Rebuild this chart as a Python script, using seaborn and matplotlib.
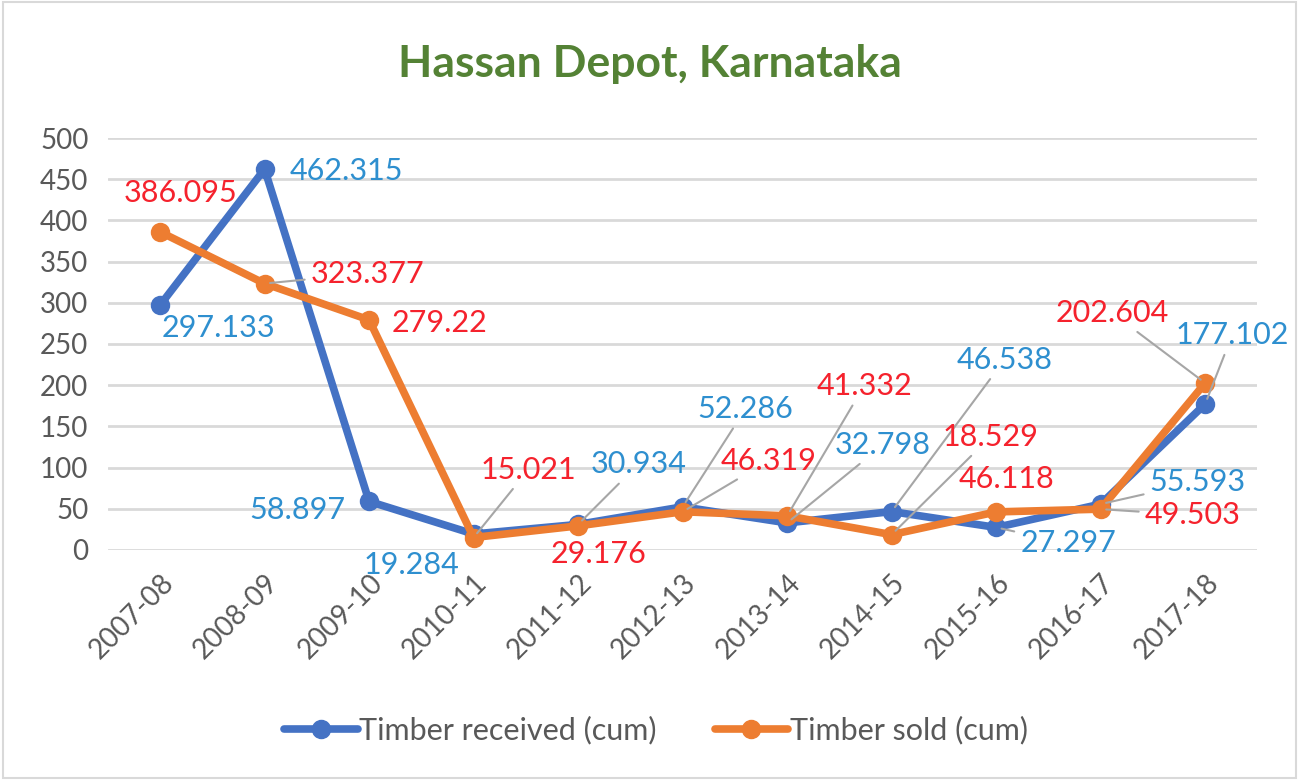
"""Hassan Depot, Karnataka - timber received vs sold."""
from matplotlib import pyplot as plt
from matplotlib.lines import Line2D
import pandas as pd
import seaborn as sns

years = ["2007-08", "2008-09", "2009-10", "2010-11", "2011-12", "2012-13",
         "2013-14", "2014-15", "2015-16", "2016-17", "2017-18"]
received = [297.133, 462.315, 58.897, 19.284, 30.934, 52.286,
            32.798, 46.538, 27.297, 55.593, 177.102]
sold = [386.095, 323.377, 279.22, 15.021, 29.176, 46.319,
        41.332, 18.529, 46.118, 49.503, 202.604]
received_labels = ["297.133", "462.315", "58.897", "19.284", "30.934", "52.286",
                   "32.798", "46.538", "27.297", "55.593", "177.102"]
sold_labels = ["386.095", "323.377", "279.22", "15.021", "29.176", "46.319",
               "41.332", "18.529", "46.118", "49.503", "202.604"]

# label placement (pixel offsets from the point, leader line or not)
rec_offsets = [(58, -23, False), (82, -2, False), (-72, -9, False), (-62, -31, False),
               (60, 60, True), (63, 98, True), (96, 78, True), (113, 152, True),
               (72, -16, True), (97, 22, True), (27, 69, True)]
sold_offsets = [(20, 39, False), (103, 10, True), (70, -3, False), (55, 68, True),
                (20, -28, False), (86, 51, True), (77, 130, True), (99, 98, True),
                (10, 33, False), (92, -6, True), (-93, 70, True)]

BLUE, ORANGE = "#4472C4", "#ED7D31"
BLUE_TXT, RED_TXT = "#2E8FCF", "#F5222D"
GREY = "#595959"

sns.set_style("white")
plt.rcParams["font.family"] = ["Lato", "DejaVu Sans"]

df = pd.DataFrame({
    "year": years * 2,
    "value": received + sold,
    "series": ["Timber received (cum)"] * len(years) + ["Timber sold (cum)"] * len(years),
})

fig = plt.figure(figsize=(12.99, 7.8), dpi=100)
ax = fig.add_axes([0.083, 0.295, 0.885, 0.528])

sns.lineplot(data=df, x="year", y="value", hue="series",
             palette=[BLUE, ORANGE], marker="o", markersize=14,
             markeredgewidth=0, linewidth=5.5, ax=ax, legend=False, sort=False)

ax.set_ylim(0, 500)
ax.set_xlim(-0.5, len(years) - 0.5)
ax.set_yticks(range(0, 501, 50))
ax.yaxis.grid(True, color="#D9D9D9", linewidth=2)
ax.set_axisbelow(True)
for s in ax.spines.values():
    s.set_visible(False)
ax.set_xlabel("")
ax.set_ylabel("")
ax.tick_params(axis="y", labelsize=20, colors=GREY, length=0, pad=14)
ax.tick_params(axis="x", labelsize=20, colors=GREY, length=0, pad=14)
ax.set_xticks(range(len(years)))
ax.set_xticklabels(years, rotation=45, ha="right", rotation_mode="anchor")


def label_points(values, labels, offsets, color):
    for i, (v, lab, (dx, dy, leader)) in enumerate(zip(values, labels, offsets)):
        arrow = dict(arrowstyle="-", color="#A6A6A6", lw=1.5,
                     shrinkA=2, shrinkB=4) if leader else None
        ax.annotate(lab, xy=(i, v), xytext=(dx, dy), textcoords="offset pixels",
                    ha="center", va="center", fontsize=22, color=color,
                    arrowprops=arrow, zorder=5)


label_points(received, received_labels, rec_offsets, BLUE_TXT)
label_points(sold, sold_labels, sold_offsets, RED_TXT)

fig.text(0.5, 0.918, "Hassan Depot, Karnataka", ha="center", va="center",
         fontsize=32, fontweight="bold", color="#548235")

handles = [Line2D([], [], color=BLUE, lw=5.5, marker="o", markersize=13),
           Line2D([], [], color=ORANGE, lw=5.5, marker="o", markersize=13)]
fig.legend(handles, ["Timber received (cum)", "Timber sold (cum)"],
           loc="center", bbox_to_anchor=(0.505, 0.064), ncol=2, frameon=False,
           fontsize=22, labelcolor=GREY, handlelength=2.4, handletextpad=0.05,
           columnspacing=1.9)

fig.patches.append(plt.Rectangle((0.002, 0.002), 0.996, 0.996, transform=fig.transFigure,
                                 fill=False, edgecolor="#D9D9D9", lw=1.5))

fig.savefig("out.png", dpi=100)
